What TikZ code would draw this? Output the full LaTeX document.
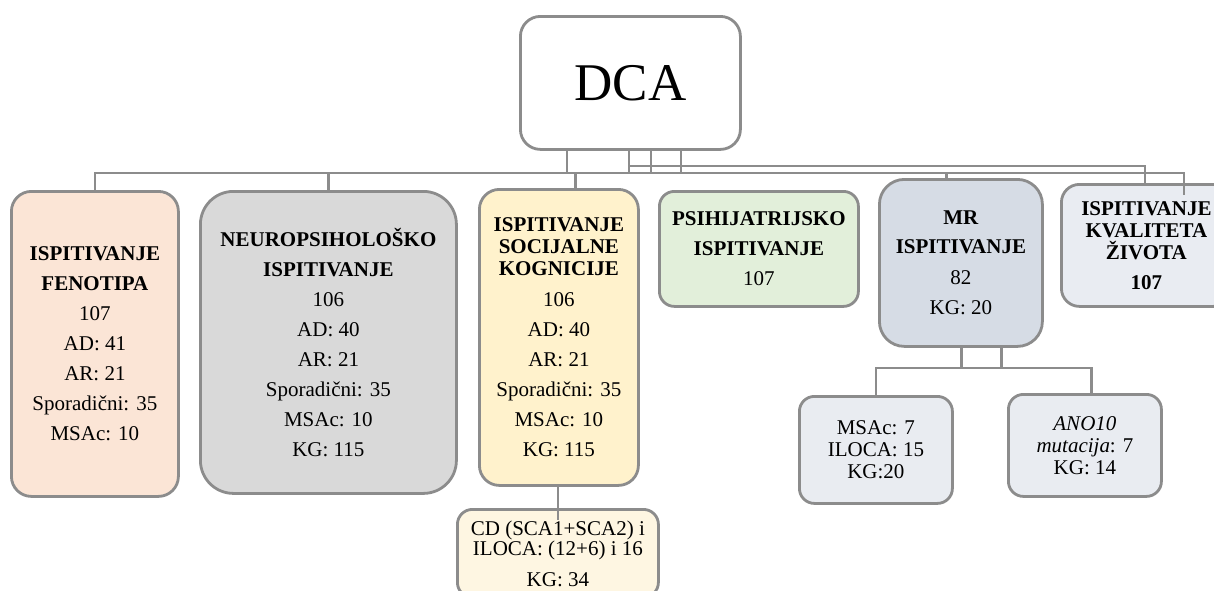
\documentclass[tikz,border=0pt]{standalone}
\usepackage{fontspec}
\setmainfont{Liberation Serif}
\definecolor{linegray}{HTML}{8C8C8C}
\definecolor{fenfill}{HTML}{FBE5D6}
\definecolor{neufill}{HTML}{D9D9D9}
\definecolor{socfill}{HTML}{FFF2CC}
\definecolor{psifill}{HTML}{E2EFDA}
\definecolor{mrfill}{HTML}{D6DCE5}
\definecolor{kvafill}{HTML}{E9ECF2}
\definecolor{subfill}{HTML}{E9ECF1}
\definecolor{cdfill}{HTML}{FEF6E2}
\begin{document}
\begin{tikzpicture}[x=1pt,y=-1pt,
  box/.style={draw=linegray, line width=2.8pt, rounded corners=#1, anchor=north west,
    inner sep=0pt, align=center, font=\fontsize{21}{22}\selectfont},
  box/.default=18pt,
  conn/.style={draw=linegray, line width=2.7pt}]
\useasboundingbox (0,0) rectangle (1214,590);
\clip (0,0) rectangle (1214,590);

% root
\node[box=20pt, fill=white, minimum width=220pt, minimum height=133pt,
      font=\fontsize{53}{53}\selectfont] (dca) at (519,15) {DCA};

% first level
\node[box=20pt, fill=fenfill, minimum width=167pt, minimum height=305pt] (fen) at (10,190)
  {\textbf{ISPITIVANJE}\\[8pt]\textbf{FENOTIPA}\\[8pt]107\\[8pt]AD: 41\\[8pt]AR: 21\\[8pt]Sporadični: 35\\[8pt]MSAc: 10};
\node[box=33pt, fill=neufill, minimum width=256pt, minimum height=302pt] (neu) at (199,190)
  {\textbf{NEUROPSIHOLOŠKO}\\[8pt]\textbf{ISPITIVANJE}\\[8pt]106\\[8pt]AD: 40\\[8pt]AR: 21\\[8pt]Sporadični: 35\\[8pt]MSAc: 10\\[8pt]KG: 115};
\node[box=20pt, fill=socfill, minimum width=159pt, minimum height=296pt] (soc) at (478,188)
  {\textbf{ISPITIVANJE}\\\textbf{SOCIJALNE}\\\textbf{KOGNICIJE}\\[9pt]106\\[8pt]AD: 40\\[8pt]AR: 21\\[8pt]Sporadični: 35\\[8pt]MSAc: 10\\[8pt]KG: 115};
\node[box=15pt, fill=psifill, minimum width=199pt, minimum height=115pt] (psi) at (658,190)
  {\textbf{PSIHIJATRIJSKO}\\[8pt]\textbf{ISPITIVANJE}\\[8pt]107};
\node[box=25pt, fill=mrfill, minimum width=163pt, minimum height=167pt] (mr) at (878,178)
  {\textbf{MR}\\[7pt]\textbf{ISPITIVANJE}\\[9pt]82\\[8pt]KG: 20};
\node[box=18pt, fill=kvafill, minimum width=170pt, minimum height=122pt] (kva) at (1060,183)
  {\textbf{ISPITIVANJE}\\\textbf{KVALITETA}\\\textbf{ŽIVOTA}\\[8pt]\textbf{107}};

% second level
\node[box=15pt, fill=subfill, minimum width=153pt, minimum height=107pt] (msa) at (798,395)
  {MSAc: 7\\ILOCA: 15\\KG:20};
\node[box=15pt, fill=subfill, minimum width=153pt, minimum height=102pt] (ano) at (1007,393)
  {\textit{ANO10}\\\textit{mutacija}: 7\\KG: 14};
\node[box=15pt, fill=cdfill, minimum width=201pt, minimum height=88pt,
      font=\fontsize{21}{19}\selectfont] (cd) at (456,508)
  {CD (SCA1+SCA2) i\\ILOCA: (12+6) i 16\\[12pt]KG: 34};

% connector buses
\coordinate (busA) at (1184,173);
\coordinate (busB) at (1145,166);
\coordinate (busBL) at (629,166);
\coordinate (mrbus) at (874,368);

\foreach \dx in {48,110,132,162}
  \draw[conn] ([xshift=\dx pt]dca.south west) -- ([xshift=\dx pt]dca.south west |- busA);
\draw[conn] (fen.north) |- (busA) -- ++(0,22);
\draw[conn] (neu.north) -- (neu.north |- busA);
\draw[conn] ([xshift=16.5pt]soc.north) -- ([xshift=16.5pt]soc.north |- busA);
\draw[conn] ([xshift=-14.5pt]mr.north) -- ([xshift=-14.5pt]mr.north |- busA);
\draw[conn] (busBL) -- (busB) -- (busB |- kva.north);

\draw[conn] ([xshift=0.5pt]mr.south) -- ([xshift=0.5pt]mr.south |- mrbus);
\draw[conn] ([xshift=40.5pt]mr.south) -- ([xshift=40.5pt]mr.south |- mrbus);
\draw[conn] (msa.north) |- ([xshift=6.5pt]ano.north |- mrbus) -- ([xshift=6.5pt]ano.north);

\draw[conn] (cd.north |- soc.south) -- ([yshift=-12pt]cd.north);
\end{tikzpicture}
\end{document}
